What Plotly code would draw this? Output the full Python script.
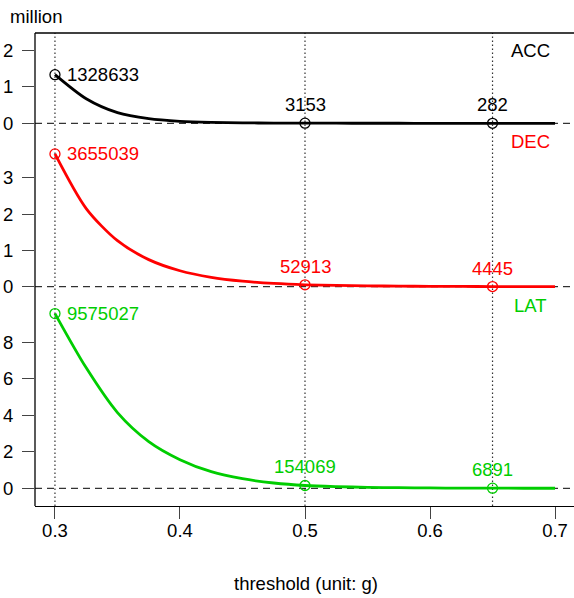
import plotly.graph_objects as go

# ---- data (counts) ----
thresholds = [0.3, 0.325, 0.35, 0.375, 0.4, 0.425, 0.45, 0.475, 0.5,
              0.525, 0.55, 0.575, 0.6, 0.625, 0.65, 0.675, 0.7]
acc = [1328633, 670000, 290000, 125000, 54000, 24000, 12000, 6300, 3153,
       2100, 1350, 900, 600, 410, 282, 190, 130]
dec = [3655039, 2150000, 1266000, 745000, 439000, 258000, 152000, 89500, 52913,
       35000, 23200, 15350, 10160, 6720, 4445, 2940, 1950]
lat = [9575027, 6600000, 4150000, 2560000, 1570000, 910000, 525000, 290000, 154069,
       91800, 54700, 32600, 19400, 11570, 6891, 4100, 2450]
marked_x = [0.3, 0.5, 0.65]
series_names = ["ACC", "DEC", "LAT"]
x_ticks = [0.3, 0.4, 0.5, 0.6, 0.7]
y_ticks = {"ACC": [0, 1, 2], "DEC": [0, 1, 2, 3], "LAT": [0, 2, 4, 6, 8]}
unit_label = "million"
x_title = "threshold (unit: g)"

series = {"ACC": acc, "DEC": dec, "LAT": lat}
colors = {"ACC": "#000000", "DEC": "#FF0000", "LAT": "#00CD00"}
axes = {"ACC": "y", "DEC": "y2", "LAT": "y3"}
label_y = {"ACC": 2, "DEC": 4, "LAT": 10}

FONT = "Liberation Sans, Arial, sans-serif"
FS = 18.5

fig = go.Figure()
annotations = []
for name in series_names:
    vals = [v / 1e6 for v in series[name]]
    ax = axes[name]
    c = colors[name]
    fig.add_trace(go.Scatter(x=thresholds, y=vals, mode="lines",
                             line=dict(color=c, width=2.8, shape="spline", smoothing=0.8),
                             yaxis=ax, hoverinfo="skip", showlegend=False))
    mx = marked_x
    my = [vals[thresholds.index(x)] for x in mx]
    fig.add_trace(go.Scatter(x=mx, y=my, mode="markers",
                             marker=dict(symbol="circle-open", size=10, color=c,
                                         line=dict(width=1.3, color=c)),
                             yaxis=ax, showlegend=False))
    for i, (xx, yy) in enumerate(zip(mx, my)):
        raw = series[name][thresholds.index(xx)]
        if i == 0:
            annotations.append(dict(x=xx, y=yy, xref="x", yref=ax, text=str(raw),
                                    showarrow=False, xanchor="left", yanchor="middle",
                                    xshift=10, font=dict(color=c, size=FS, family=FONT)))
        else:
            annotations.append(dict(x=xx, y=yy, xref="x", yref=ax, text=str(raw),
                                    showarrow=False, xanchor="center", yanchor="middle",
                                    yshift=18.5, font=dict(color=c, size=FS, family=FONT)))
    annotations.append(dict(x=0.68, y=label_y[name], xref="x", yref=ax, text=name,
                            showarrow=False, xanchor="center", yanchor="middle",
                            font=dict(color=c, size=FS, family=FONT)))

annotations.append(dict(x=-0.05, y=(506 - 16) / 473, xref="paper", yref="paper", text=unit_label,
                        showarrow=False, xanchor="left", yanchor="middle",
                        font=dict(color="black", size=FS, family=FONT)))
annotations.append(dict(x=(305.5 - 35) / 539, y=(506 - 583) / 473, xref="paper", yref="paper",
                        text=x_title, showarrow=False, xanchor="center", yanchor="middle",
                        font=dict(color="black", size=FS, family=FONT)))

shapes = []
# vertical dotted reference lines
for xx in marked_x:
    shapes.append(dict(type="line", xref="x", yref="paper", x0=xx, x1=xx, y0=0, y1=1,
                       line=dict(color="#333333", width=1.2, dash="1.5px,2.5px"), layer="below"))
# dashed zero lines
for name in series_names:
    shapes.append(dict(type="line", xref="paper", yref=axes[name], x0=0, x1=1, y0=0, y1=0,
                       line=dict(color="black", width=1, dash="7px,5px"), layer="below"))
# box: left and top
shapes.append(dict(type="line", xref="paper", yref="paper", x0=0, x1=0, y0=0, y1=1,
                   line=dict(color="black", width=1.3)))
shapes.append(dict(type="line", xref="paper", yref="paper", x0=0, x1=1, y0=1, y1=1,
                   line=dict(color="black", width=1.3)))

H = 473.0
def f(y):
    return (506 - y) / H

common_y = dict(showgrid=False, zeroline=False, showline=False, ticks="outside",
                ticklen=12, tickwidth=1.2, tickcolor="#444444", tickmode="array",
                tickfont=dict(size=FS, family=FONT, color="black"), anchor="x",
                ticklabelstandoff=5, fixedrange=True, automargin=False)

fig.update_layout(
    width=574, height=598,
    margin=dict(l=35, r=0, t=33, b=92, autoexpand=False),
    paper_bgcolor="white", plot_bgcolor="rgba(0,0,0,0)",
    font=dict(family=FONT, size=FS, color="black"),
    xaxis=dict(range=[0.3 - 20 / 1252.5, 0.7 + 19 / 1252.5], tickvals=x_ticks,
               ticktext=[str(t) for t in x_ticks], ticks="outside", ticklen=12,
               tickwidth=1.2, tickcolor="#444444", showgrid=False, zeroline=False,
               showline=True, linecolor="black", linewidth=1.3, anchor="y3",
               tickfont=dict(size=FS, family=FONT, color="black"), ticklabelstandoff=-4,
               automargin=False, fixedrange=True),
    yaxis=dict(domain=[f(140), 1.0], range=[-16.7 / 36.6, 90.3 / 36.6],
               tickvals=y_ticks["ACC"], **common_y),
    yaxis2=dict(domain=[f(300), f(140)], range=[-13.3 / 36.33, 146.7 / 36.33],
                tickvals=y_ticks["DEC"], **common_y),
    yaxis3=dict(domain=[0.0, f(300)], range=[-17.7 / 18.25, 188.3 / 18.25],
                tickvals=y_ticks["LAT"], **common_y),
    annotations=annotations,
    shapes=shapes,
    showlegend=False,
)

fig.write_html(
    "out.html",
    config={"displayModeBar": False},
    post_script="document.body.style.margin='0';document.body.style.overflow='hidden';",
)
